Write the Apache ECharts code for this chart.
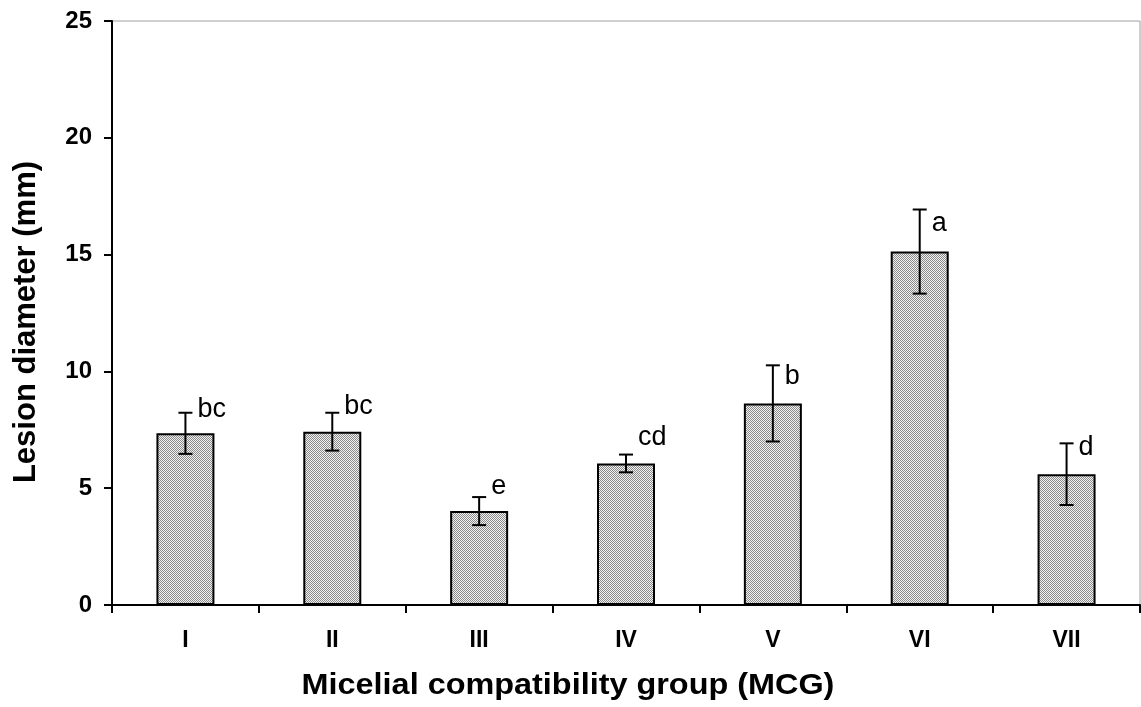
<!DOCTYPE html>
<html>
<head>
<meta charset="utf-8">
<script src="https://cdn.jsdelivr.net/npm/echarts@6/dist/echarts.min.js"></script>
<style>
html,body{margin:0;padding:0;background:#fff;}
#chart{width:1141px;height:707px;}
</style>
</head>
<body>
<div id="chart"></div>
<script>
// ---- data ----
var categories = ['I', 'II', 'III', 'IV', 'V', 'VI', 'VII'];
var means      = [7.35, 7.42, 4.02, 6.06, 8.63, 15.13, 5.6];
var errors     = [0.88, 0.81, 0.6, 0.38, 1.63, 1.8, 1.32];
var letters    = ['bc', 'bc', 'e', 'cd', 'b', 'a', 'd'];
var letterValue = [7.97, 8.11, 4.68, 6.76, 9.36, 15.94, 6.33]; // baseline of letters (data units)
var yTicks = [0, 5, 10, 15, 20, 25];
var xTitle = 'Micelial compatibility group (MCG)';
var yTitle = 'Lesion diameter (mm)';

// ---- fill pattern (fine checker) ----
var pc = document.createElement('canvas');
pc.width = 2; pc.height = 2;
var pctx = pc.getContext('2d');
pctx.fillStyle = '#f2f2f2'; pctx.fillRect(0, 0, 2, 2);
pctx.fillStyle = '#8a8a8a'; pctx.fillRect(0, 0, 1, 1); pctx.fillRect(1, 1, 1, 1);

var errData = categories.map(function (c, i) { return [i, means[i] - errors[i], means[i] + errors[i]]; });
var letterData = categories.map(function (c, i) { return { value: [i, letterValue[i]], name: letters[i] }; });

var chart = echarts.init(document.getElementById('chart'), null, { renderer: 'canvas' });

chart.setOption({
  animation: false,
  backgroundColor: '#fff',
  grid: { left: 112, right: 1, top: 21, bottom: 102, show: true, borderColor: '#a0a0a0', borderWidth: 1, backgroundColor: 'transparent' },
  xAxis: {
    type: 'category',
    data: categories,
    boundaryGap: true,
    axisLine: { lineStyle: { color: '#000', width: 2 } },
    axisTick: { show: true, inside: false, length: 8, alignWithLabel: false, lineStyle: { color: '#000', width: 2 } },
    axisLabel: { margin: 24, color: '#000', fontWeight: 'bold', fontSize: 23, fontFamily: '"Liberation Sans", Arial, sans-serif' },
    splitLine: { show: false }
  },
  yAxis: {
    type: 'value',
    min: yTicks[0], max: yTicks[yTicks.length - 1], interval: yTicks[1] - yTicks[0],
    axisLine: { show: true, lineStyle: { color: '#000', width: 2 } },
    axisTick: { show: true, inside: false, length: 8, lineStyle: { color: '#000', width: 2 } },
    axisLabel: { margin: 20, color: '#000', fontWeight: 'bold', fontSize: 24, fontFamily: '"Liberation Sans", Arial, sans-serif' },
    splitLine: { show: false }
  },
  graphic: [
    { type: 'text', x: 568, y: 686, scaleX: 1.08, style: { text: xTitle, font: 'bold 30px "Liberation Sans", Arial, sans-serif', fill: '#000', textAlign: 'center', textVerticalAlign: 'middle', align: 'center', verticalAlign: 'middle' } },
    { type: 'text', x: 26, y: 322, rotation: Math.PI / 2, style: { text: yTitle, font: 'bold 31px "Liberation Sans", Arial, sans-serif', fill: '#000', textAlign: 'center', textVerticalAlign: 'middle', align: 'center', verticalAlign: 'middle' } }
  ],
  series: [
    {
      type: 'bar',
      data: means,
      barWidth: 58,
      itemStyle: { color: { image: pc, repeat: 'repeat' }, borderColor: '#000', borderWidth: 2 },
      z: 2
    },
    {
      type: 'custom',
      data: errData,
      z: 3,
      renderItem: function (params, api) {
        var i = api.value(0);
        var lo = api.coord([i, api.value(1)]);
        var hi = api.coord([i, api.value(2)]);
        var cw = 7;
        var st = { stroke: '#000', lineWidth: 2 };
        return {
          type: 'group',
          children: [
            { type: 'line', shape: { x1: lo[0], y1: lo[1], x2: hi[0], y2: hi[1] }, style: st },
            { type: 'line', shape: { x1: hi[0] - cw, y1: hi[1], x2: hi[0] + cw, y2: hi[1] }, style: st },
            { type: 'line', shape: { x1: lo[0] - cw, y1: lo[1], x2: lo[0] + cw, y2: lo[1] }, style: st }
          ]
        };
      }
    },
    {
      type: 'custom',
      data: letterData,
      z: 4,
      renderItem: function (params, api) {
        var p = api.coord([api.value(0), api.value(1)]);
        var fs = 27;
        return {
          type: 'text',
          x: p[0] + 12,
          y: p[1] - fs * 0.35,
          style: { text: letters[params.dataIndex], font: fs + 'px "Liberation Sans", Arial, sans-serif', fill: '#000', textAlign: 'left', textVerticalAlign: 'middle', align: 'left', verticalAlign: 'middle' }
        };
      }
    }
  ]
});
</script>
</body>
</html>
